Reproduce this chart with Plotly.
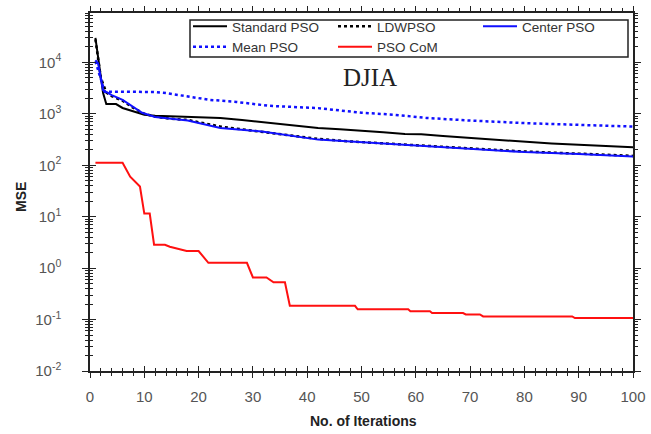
import plotly.graph_objects as go

# ---- data ----
std_x = [1, 2.4, 3, 4.8, 6, 8, 10, 12, 15, 18, 24, 28, 32, 37, 42, 46, 50, 54, 58, 61, 65, 70, 75, 80, 85, 90, 95, 100]
std_y = [30000, 2560, 1550, 1550, 1300, 1110, 960, 920, 900, 870, 830, 760, 680, 600, 530, 500, 475, 440, 405, 400, 370, 340, 310, 283, 265, 250, 235, 225]

ldw_x = [1, 2, 3, 4, 6, 8, 10, 12, 15, 18, 24, 30, 36, 42, 48, 54, 61, 70, 80, 90, 100]
ldw_y = [28000, 5000, 2600, 2200, 1800, 1300, 1000, 880, 800, 760, 565, 470, 390, 325, 290, 265, 240, 210, 185, 168, 152]

ctr_x = [1, 1.5, 2.4, 4, 6, 7.8, 9.6, 12, 18, 24, 32, 42, 50, 61, 70, 80, 90, 100]
ctr_y = [11000, 9500, 2900, 2300, 1870, 1390, 1050, 870, 740, 530, 450, 315, 280, 235, 205, 180, 165, 148]

mean_x = [1, 2.7, 6, 10, 12, 14, 18, 22, 27, 33, 42, 50, 56, 62, 70, 80, 90, 100]
mean_y = [10500, 2700, 2700, 2700, 2650, 2530, 2200, 1870, 1700, 1430, 1290, 1050, 960, 830, 740, 660, 610, 565]

com_x = [1, 6, 7.4, 9.2, 10, 11, 11.8, 13.8, 14.7, 16.6, 17.8, 20, 21.8, 28.9, 30, 32.5, 33.8, 35.9, 36.8,
         48.8, 49.3, 58.6, 59, 62.6, 63, 68.7, 69.2, 71.8, 72.4, 88.8, 89.3, 100]
com_y = [112, 112, 60, 38.6, 11.5, 11.5, 2.85, 2.85, 2.6, 2.3, 2.15, 2.15, 1.27, 1.27, 0.66, 0.66, 0.53, 0.53, 0.185,
         0.185, 0.158, 0.158, 0.145, 0.145, 0.134, 0.134, 0.126, 0.126, 0.115, 0.115, 0.107, 0.107]

y_tickvals = [0.01, 0.1, 1, 10, 100, 1000, 10000]
y_ticktext = ["10<sup>-2</sup>", "10<sup>-1</sup>", "10<sup>0</sup>", "10<sup>1</sup>",
              "10<sup>2</sup>", "10<sup>3</sup>", "10<sup>4</sup>"]
y_minor = [m * d for d in [0.01, 0.1, 1, 10, 100, 1000, 10000] for m in range(2, 10)]

FONT = "Liberation Sans, Arial, sans-serif"

fig = go.Figure()
fig.add_trace(go.Scatter(x=std_x, y=std_y, mode="lines", name="Standard PSO",
                         line=dict(color="black", width=2)))
fig.add_trace(go.Scatter(x=ldw_x, y=ldw_y, mode="lines", name="LDWPSO",
                         line=dict(color="black", width=2.5, dash="dot")))
fig.add_trace(go.Scatter(x=ctr_x, y=ctr_y, mode="lines", name="Center PSO",
                         line=dict(color="#1010ff", width=2)))
fig.add_trace(go.Scatter(x=mean_x, y=mean_y, mode="lines", name="Mean PSO",
                         line=dict(color="#1010ff", width=2.5, dash="dot")))
fig.add_trace(go.Scatter(x=com_x, y=com_y, mode="lines", name="PSO CoM",
                         line=dict(color="#ff1010", width=2)))

W, H = 651, 434
L, R, T, B = 90, 18, 13, 63
PW, PH = W - L - R, H - T - B


def px(xp):
    return (xp - L) / PW


def py(yp):
    return (H - B - yp) / PH


axcol = "#222222"
fig.update_layout(
    width=W, height=H,
    margin=dict(l=L, r=R, t=T, b=B, autoexpand=False),
    paper_bgcolor="white", plot_bgcolor="white",
    font=dict(family=FONT, color="#444444"),
    showlegend=True,
    legend=dict(orientation="h", x=px(188), y=py(11), xanchor="left", yanchor="top",
                borderwidth=0, bgcolor="rgba(0,0,0,0)",
                font=dict(size=13.5, color="#333333", family=FONT),
                entrywidth=96, itemwidth=34, tracegroupgap=0),
    shapes=[dict(type="rect", xref="paper", yref="paper", x0=px(190), x1=px(628), y0=py(57), y1=py(20),
                 line=dict(color=axcol, width=1.5), fillcolor="rgba(0,0,0,0)", layer="above")],
    xaxis=dict(range=[0, 100], dtick=10, tick0=0, ticks="outside", ticklen=5, tickcolor=axcol,
               showline=True, linecolor=axcol, linewidth=1.5, mirror="ticks", showgrid=False,
               zeroline=False, tickfont=dict(size=15, color="#555555"), ticklabelstandoff=6,
               minor=dict(ticks="outside", ticklen=3, dtick=2, tickcolor=axcol)),
    xaxis2=dict(range=[0, 100], overlaying="x", anchor="y", side="bottom", dtick=10, tick0=0,
                ticks="inside", ticklen=5, tickcolor=axcol, showticklabels=False, showline=False,
                showgrid=False, zeroline=False,
                minor=dict(ticks="inside", ticklen=3, dtick=2, tickcolor=axcol)),
    yaxis=dict(type="log", range=[-2, 4.96], tickvals=y_tickvals, ticktext=y_ticktext,
               ticks="outside", ticklen=6, tickcolor=axcol, showline=True, linecolor=axcol, linewidth=1.5,
               mirror="ticks", showgrid=False, zeroline=False, tickfont=dict(size=15, color="#555555"),
               ticklabelstandoff=18,
               minor=dict(ticks="outside", ticklen=3, tickvals=y_minor, tickcolor=axcol)),
    yaxis2=dict(type="log", range=[-2, 4.96], overlaying="y", anchor="x", side="left",
                tickvals=y_tickvals, ticks="inside", ticklen=6, tickcolor=axcol, showticklabels=False,
                showline=False, showgrid=False, zeroline=False,
                minor=dict(ticks="inside", ticklen=3, tickvals=y_minor, tickcolor=axcol)),
    annotations=[
        dict(text="DJIA", xref="paper", yref="paper", x=px(370), y=py(78), xanchor="center", yanchor="middle",
             showarrow=False, font=dict(family="Liberation Serif, Times New Roman, serif", size=25, color="#222222")),
        dict(text="<b>No. of Iterations</b>", xref="paper", yref="paper", x=px(363), y=py(421),
             xanchor="center", yanchor="middle", showarrow=False,
             font=dict(size=14, color="#222222", family=FONT)),
        dict(text="<b>MSE</b>", xref="paper", yref="paper", x=px(21), y=py(197), xanchor="center",
             yanchor="middle", textangle=-90, showarrow=False, font=dict(size=14, color="#222222", family=FONT)),
    ],
)
# invisible trace to activate the overlay axes (used only for crossing tick marks)
fig.add_trace(go.Scatter(x=[None], y=[None], xaxis="x2", yaxis="y2", showlegend=False, hoverinfo="skip"))

fig.write_html("out.html", config={"displayModeBar": False},
               post_script="document.body.style.margin='0';document.body.style.overflow='hidden';")
